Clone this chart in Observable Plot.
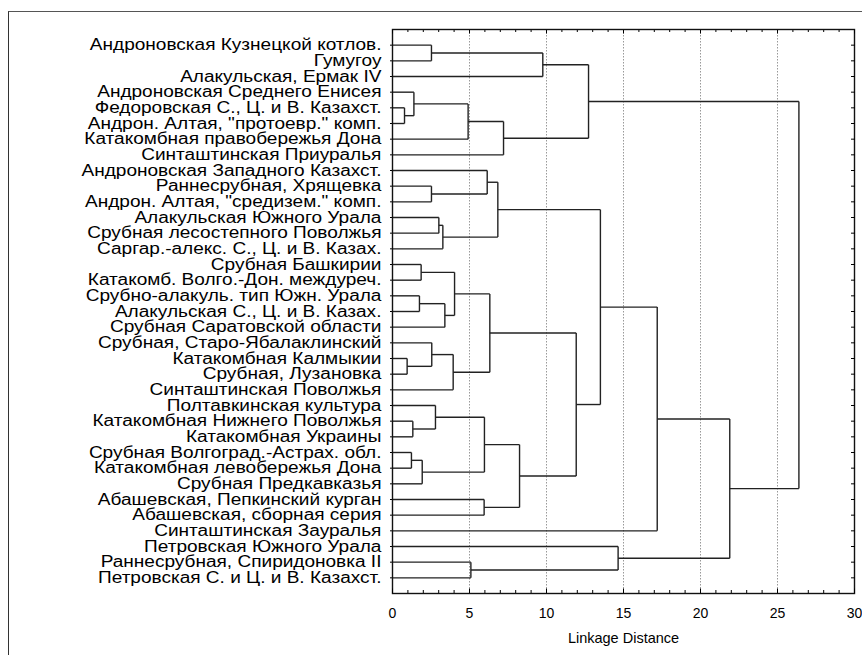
<!DOCTYPE html>
<html><head><meta charset="utf-8">
<script src="https://cdn.jsdelivr.net/npm/d3@7"></script>
<script src="https://cdn.jsdelivr.net/npm/@observablehq/plot@0.6"></script>
<style>
html,body{margin:0;padding:0;background:#fff;}
#wrap{position:relative;width:862px;height:655px;overflow:hidden;}
#outer{position:absolute;left:8px;top:11px;width:900px;height:700px;border-left:1px solid #333;border-top:1px solid #555;pointer-events:none;}
#wrap svg{position:absolute;left:0;top:0;}
</style></head><body><div id="wrap"><div id="outer"></div></div>
<script>
// Leaves, top to bottom
const leaves = [
  "Андроновская Кузнецкой котлов.",
  "Гумугоу",
  "Алакульская, Ермак IV",
  "Андроновская Среднего Енисея",
  "Федоровская С., Ц. и В. Казахст.",
  "Андрон. Алтая, \"протоевр.\" комп.",
  "Катакомбная правобережья Дона",
  "Синташтинская Приуралья",
  "Андроновская Западного Казахст.",
  "Раннесрубная, Хрящевка",
  "Андрон. Алтая, \"средизем.\" комп.",
  "Алакульская Южного Урала",
  "Срубная лесостепного Поволжья",
  "Саргар.-алекс. С., Ц. и В. Казах.",
  "Срубная Башкирии",
  "Катакомб. Волго.-Дон. междуреч.",
  "Срубно-алакуль. тип Южн. Урала",
  "Алакульская С., Ц. и В. Казах.",
  "Срубная Саратовской области",
  "Срубная, Старо-Ябалаклинский",
  "Катакомбная Калмыкии",
  "Срубная, Лузановка",
  "Синташтинская Поволжья",
  "Полтавкинская культура",
  "Катакомбная Нижнего Поволжья",
  "Катакомбная Украины",
  "Срубная Волгоград.-Астрах. обл.",
  "Катакомбная левобережья Дона",
  "Срубная Предкавказья",
  "Абашевская, Пепкинский курган",
  "Абашевская, сборная серия",
  "Синташтинская Зауралья",
  "Петровская Южного Урала",
  "Раннесрубная, Спиридоновка II",
  "Петровская С. и Ц. и В. Казахст."
];
// Linkage: node 35+k joins mergeLeft[k] and mergeRight[k] at mergeHeight[k]
const mergeLeft  = [0, 35, 4, 3, 38, 39, 36, 9, 8, 11, 44, 43, 14, 16, 48, 47, 20, 19, 52, 50, 24, 23, 26, 57, 56, 29, 59, 54, 46, 63, 33, 32, 64, 41];
const mergeRight = [1, 2, 5, 37, 6, 7, 40, 10, 42, 12, 13, 45, 15, 17, 18, 49, 21, 51, 22, 53, 25, 55, 27, 28, 58, 30, 60, 61, 62, 31, 34, 65, 66, 67];
const mergeHeight = [2.53, 9.76, 0.78, 1.39, 4.91, 7.21, 12.73, 2.53, 6.15, 3.01, 3.27, 6.84, 1.86, 1.75, 3.40, 4.03, 0.95, 2.55, 3.94, 6.32, 1.32, 2.79, 1.23, 1.93, 5.97, 5.95, 8.25, 11.93, 13.50, 17.19, 5.09, 14.65, 21.90, 26.39];
const xMajorTicks = [0, 5, 10, 15, 20, 25, 30];
const xMinorTicks = d3.range(0, 31, 1);
const gridTicks = [5, 10, 15, 20, 25];
const axisTitle = "Linkage Distance";

const n = leaves.length;
const nodeY = leaves.map((d, i) => i);
const nodeX = leaves.map(() => 0);
const segs = [];
mergeLeft.forEach((a, k) => {
  const b = mergeRight[k], h = mergeHeight[k];
  const ya = nodeY[a], yb = nodeY[b];
  segs.push({x1: nodeX[a], x2: h, y1: ya, y2: ya});
  segs.push({x1: nodeX[b], x2: h, y1: yb, y2: yb});
  segs.push({x1: h, x2: h, y1: ya, y2: yb});
  nodeY.push((ya + yb) / 2);
  nodeX.push(h);
});
const leafIdx = d3.range(n);

const chart = Plot.plot({
  width: 862,
  height: 655,
  marginLeft: 392,
  marginRight: 8,
  marginTop: 29,
  marginBottom: 62,
  style: {fontFamily: "'Liberation Sans', Arial, sans-serif", fontSize: "14px", color: "#000", background: "transparent"},
  x: {domain: [0, 30]},
  y: {domain: [n, -1]},
  marks: [
    Plot.gridX(gridTicks, {stroke: "#999", strokeOpacity: 1, strokeDasharray: "1.5,1.5"}),
    Plot.link(segs, {x1: "x1", y1: "y1", x2: "x2", y2: "y2", stroke: "#222", strokeWidth: 1.4}),
    Plot.frame({stroke: "#111", strokeWidth: 1.4}),
    Plot.axisY(leafIdx, {anchor: "left", tickSize: 2, tickPadding: 9, tickFormat: i => leaves[i], fontSize: 16, fill: "#000", label: null}),
    Plot.axisY(leafIdx, {anchor: "right", tickSize: -4, tickFormat: () => "", label: null}),
    Plot.axisX(xMinorTicks, {anchor: "bottom", tickSize: -3, tickFormat: () => "", label: null}),
    Plot.axisX(xMajorTicks, {anchor: "bottom", tickSize: -4.5, tickFormat: () => "", label: null}),
    Plot.axisX(xMajorTicks, {anchor: "bottom", tickSize: 0, tickPadding: 15, fontSize: 14, label: null}),
    Plot.axisX(xMinorTicks, {anchor: "top", tickSize: -2, tickFormat: () => "", label: null}),
    Plot.axisX(xMajorTicks, {anchor: "top", tickSize: -3.5, tickFormat: () => "", label: null}),
    Plot.text([axisTitle], {frameAnchor: "bottom", dy: 49, fontSize: 14.5, fill: "#000"})
  ]
});
document.getElementById("wrap").appendChild(chart);

// The reference renders leaf names horizontally wider; stretch them about their right edge.
const stretch = 1.19;
const leafSet = new Set(leaves);
const groups = new Set();
chart.querySelectorAll("text").forEach(t => {
  if (leafSet.has(t.textContent) && t.parentNode) groups.add(t.parentNode);
});
groups.forEach(g => {
  const bb = g.getBBox();
  const ax = bb.x + bb.width;
  const prev = g.getAttribute("transform") || "";
  g.setAttribute("transform", `${prev} translate(${ax},0) scale(${stretch},1) translate(${-ax},0)`);
});
</script>
</body></html>
